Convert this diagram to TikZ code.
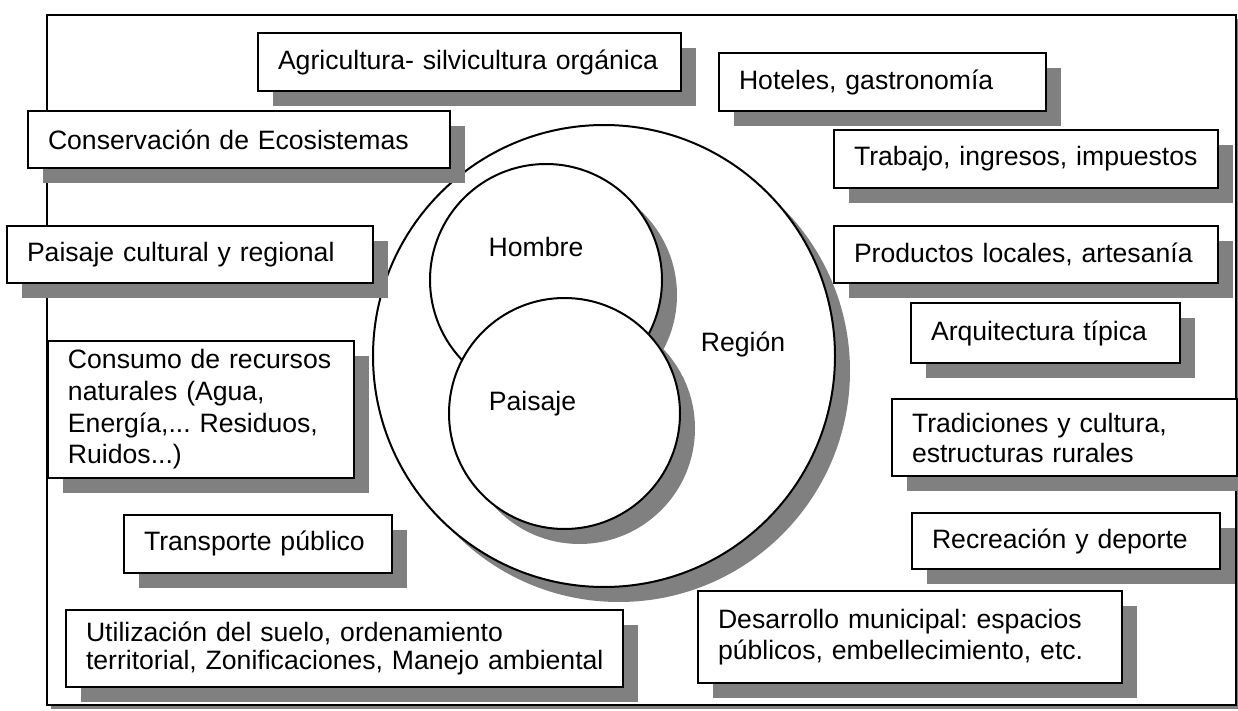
\documentclass[tikz,border=0pt]{standalone}
\usepackage{fontspec}
\setmainfont{Liberation Sans}
\usetikzlibrary{shadows}
\frenchspacing
\hyphenpenalty=10000
\exhyphenpenalty=10000

\begin{document}
\begin{tikzpicture}[x=0.5pt,y=-0.5pt,font=\fontsize{13.3}{15.5}\selectfont]
      \tikzstyle{sombra}=[drop shadow={shadow xshift=7.5pt,shadow yshift=-7.5pt,fill=black!50,opacity=1}]
      \tikzstyle{caja}=[draw,fill=white,line width=1pt,inner xsep=10pt,inner ysep=0pt,align=left,sombra]
      \tikzstyle{circulo}=[draw,circle,fill=white,line width=1pt,inner sep=0pt,sombra]
      \useasboundingbox (0,0) rectangle (1238,711);
      % marco
      \node [draw,fill=white,line width=0.75pt,minimum width=594.5pt,minimum height=345pt,inner sep=0pt,
        drop shadow={shadow xshift=2pt,shadow yshift=-2pt,fill=black!50,opacity=1}] (marco) at (641.5,360) {};
      % circulos
      \node [circulo,minimum size=231pt] (region) at (604,356) {};
      \node [circulo,minimum size=116pt] (hombre) at (546,280) {};
      \node [circulo,minimum size=115.5pt] (paisaje) at (564.5,413.5) {};
      \node [anchor=base] (tregion) at (743,352) {Región};
      \node [anchor=base] (thombre) at (536,257) {Hombre};
      \node [anchor=base] (tpaisaje) at (532.5,410) {Paisaje};
      % izquierda
      \node [caja,text width=191.5pt,minimum height=29pt] (agricultura) at (469.5,62) {Agricultura- silvicultura orgánica};
      \node [caja,text width=191pt,minimum height=28.5pt] (conservacion) at (239,139.5) {Conservación de Ecosistemas};
      \node [caja,text width=163pt,minimum height=28.5pt] (cultural) at (190,254.5) {Paisaje cultural y regional};
      \node [caja,text width=133pt,minimum height=68.5pt,font=\fontsize{13.3}{15.8}\selectfont] (consumo) at (201,409.5)
        {Consumo de recursos\\ naturales (Agua,\\ Energía,... Residuos,\\ Ruidos...)};
      \node [caja,text width=114pt,minimum height=29pt] (transporte) at (258,543.5) {Transporte público};
      \node [caja,text width=258.5pt,minimum height=38.5pt,font=\fontsize{13.3}{14}\selectfont] (utilizacion) at (344.5,648.5)
        {Utilización del suelo, ordenamiento\\ \mbox{territorial, Zonificaciones, Manejo ambiental}};
      % derecha
      \node [caja,text width=143.5pt,minimum height=29pt] (hoteles) at (882.5,82) {Hoteles, gastronomía};
      \node [caja,text width=172pt,minimum height=29pt] (trabajo) at (1026,159) {Trabajo, ingresos, impuestos};
      \node [caja,text width=172pt,minimum height=28.5pt] (productos) at (1026,254.5) {Productos locales, artesanía};
      \node [caja,text width=114.5pt,minimum height=30pt] (arquitectura) at (1045.5,333) {Arquitectura típica};
      \node [caja,text width=152.5pt,minimum height=38.5pt,font=\fontsize{13.3}{15}\selectfont] (tradiciones) at (1064.5,437.5)
        {Tradiciones y cultura,\\ estructuras rurales};
      \node [caja,text width=134pt,minimum height=28pt] (recreacion) at (1066,541) {Recreación y deporte};
      \node [caja,text width=192pt,minimum height=46pt,font=\fontsize{13.3}{15.5}\selectfont] (desarrollo) at (910,637)
        {Desarrollo municipal: espacios\\ públicos, embellecimiento, etc.};
\end{tikzpicture}
\end{document}
